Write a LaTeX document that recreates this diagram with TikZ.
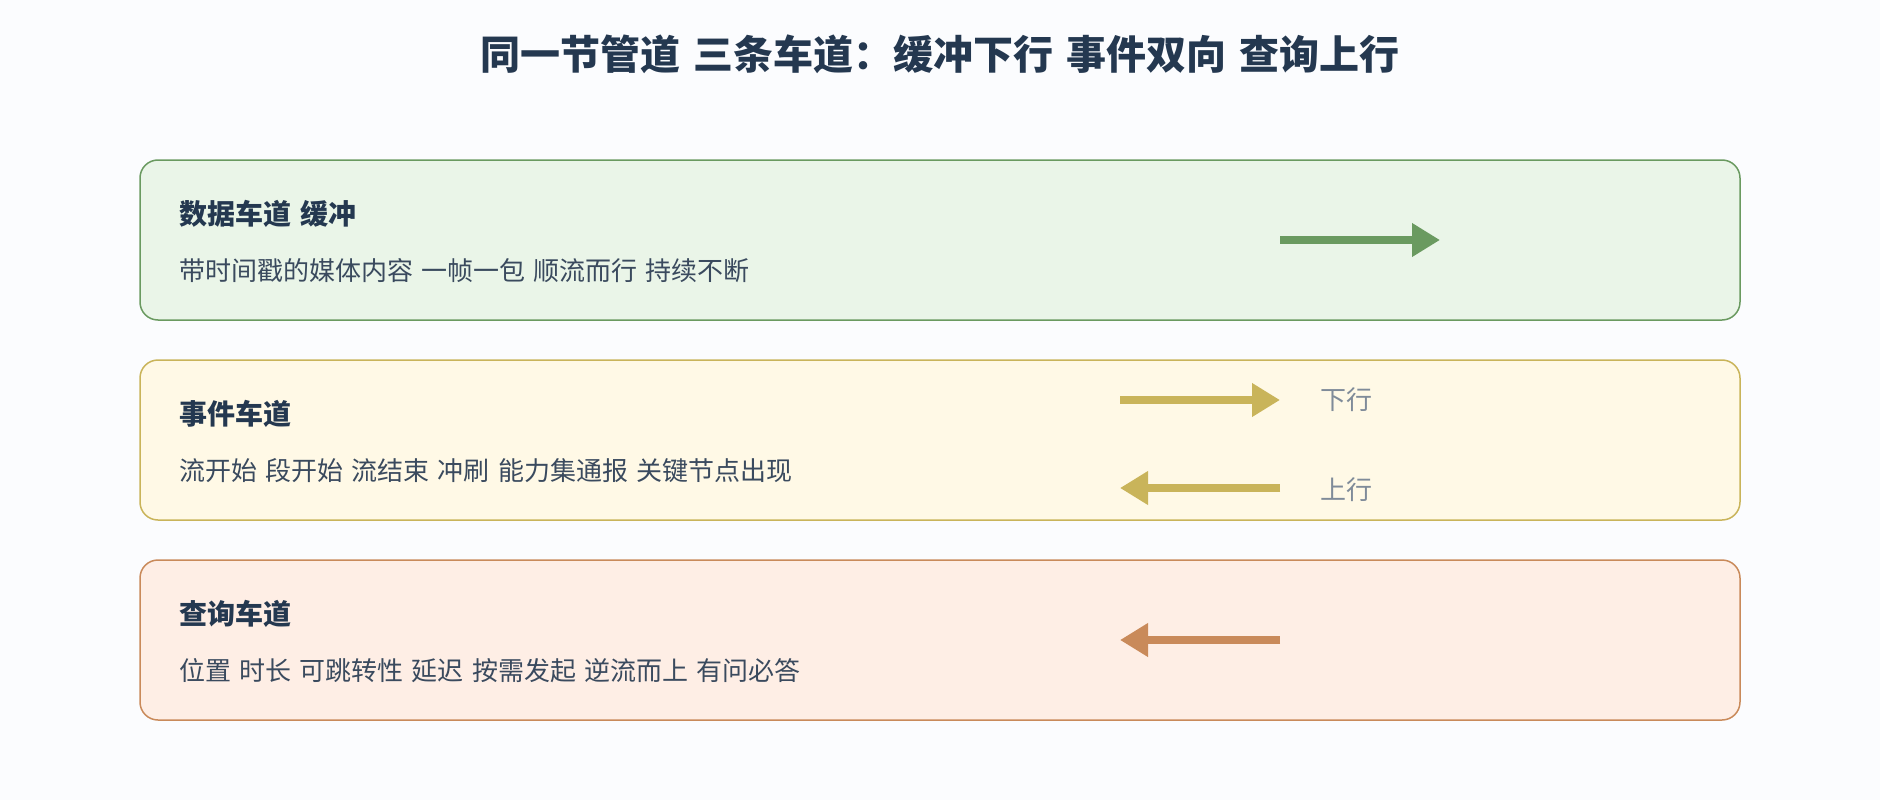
\documentclass[tikz,border=0pt]{standalone}
\usepackage{fontspec}
\setmainfont[WordSpace=1.4]{Noto Sans CJK SC}
\usetikzlibrary{positioning}
\usetikzlibrary{arrows.meta}
\usetikzlibrary{calc}

\definecolor{bgcol}{HTML}{FBFCFE}
\definecolor{titlecol}{HTML}{243850}
\definecolor{bodycol}{HTML}{3A4A5E}
\definecolor{labelcol}{HTML}{7F8B99}
\definecolor{datafill}{HTML}{EAF5E8}
\definecolor{datadraw}{HTML}{6A9A60}
\definecolor{eventfill}{HTML}{FFF9E6}
\definecolor{eventdraw}{HTML}{C9B45A}
\definecolor{queryfill}{HTML}{FEEEE5}
\definecolor{querydraw}{HTML}{C98A5A}

\begin{document}
\begin{tikzpicture}[
    x=1pt, y=1pt,
    lane/.style={rectangle, rounded corners=18pt, line width=1.5pt, minimum width=1600pt, minimum height=160pt},
    heading/.style={anchor=west, inner sep=0pt, text=titlecol, font=\fontsize{28}{34}\selectfont\bfseries},
    body/.style={anchor=west, inner sep=0pt, text=bodycol, font=\fontsize{26}{32}\selectfont},
    dirlabel/.style={anchor=west, inner sep=0pt, text=labelcol, font=\fontsize{26}{32}\selectfont},
    flow/.style={line width=8pt, -{Triangle[length=28pt,width=32pt]}},
]
    \useasboundingbox[fill=bgcol] (0,0) rectangle (1880,-800);

    \node[inner sep=0pt, text=titlecol, font=\fontsize{40}{48}\selectfont\bfseries] (title) at (940,-54) {同一节管道 三条车道：缓冲下行 事件双向 查询上行};

    % lanes
    \node[lane, draw=datadraw, fill=datafill] (L1) at (940,-240) {};
    \node[lane, draw=eventdraw, fill=eventfill] (L2) at (940,-440) {};
    \node[lane, draw=querydraw, fill=queryfill] (L3) at (940,-640) {};

    \node[heading] (H1) at ($(L1.west)+(40,26)$) {数据车道 缓冲};
    \node[body] (T1) at ($(L1.west)+(40,-31)$) {带时间戳的媒体内容 一帧一包 顺流而行 持续不断};

    \node[heading] (H2) at ($(L2.west)+(40,26)$) {事件车道};
    \node[body] (T2) at ($(L2.west)+(40,-31)$) {流开始 段开始 流结束 冲刷 能力集通报 关键节点出现};

    \node[heading] (H3) at ($(L3.west)+(40,26)$) {查询车道};
    \node[body] (T3) at ($(L3.west)+(40,-31)$) {位置 时长 可跳转性 延迟 按需发起 逆流而上 有问必答};

    % arrows
    \coordinate (D1a) at (1280,-240);
    \coordinate (D1b) at (1440,-240);
    \coordinate (E1a) at (1120,-400);
    \coordinate (E1b) at (1280,-400);
    \coordinate (E2a) at (1280,-488);
    \coordinate (E2b) at (1120,-488);
    \coordinate (Q1a) at (1280,-640);
    \coordinate (Q1b) at (1120,-640);

    \draw[flow, datadraw] (D1a) -- (D1b);
    \draw[flow, eventdraw] (E1a) -- (E1b);
    \draw[flow, eventdraw] (E2a) -- (E2b);
    \draw[flow, querydraw] (Q1a) -- (Q1b);

    \node[dirlabel] (down) [right=40pt of E1b] {下行};
    \node[dirlabel] (up) at ($(E2a)+(40,-2)$) {上行};
\end{tikzpicture}
\end{document}
